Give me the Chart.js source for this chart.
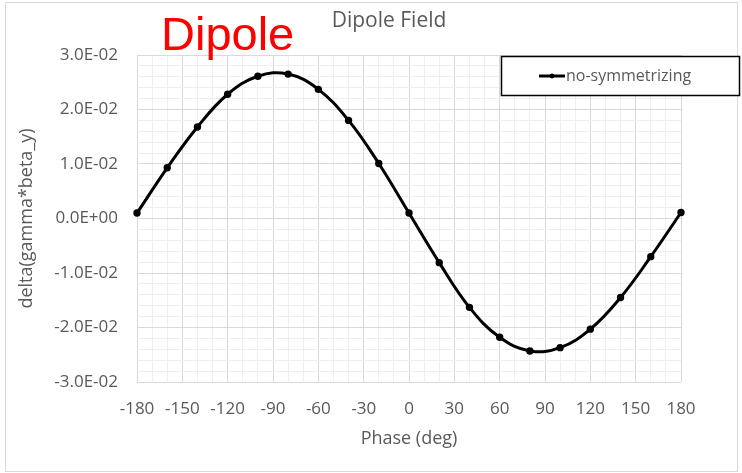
<!DOCTYPE html>
<html>
<head>
<meta charset="utf-8">
<script src="https://cdn.jsdelivr.net/npm/chart.js@4.4.1/dist/chart.umd.min.js"></script>
<style>
  html, body { margin: 0; padding: 0; background: #ffffff; }
  #wrap { position: relative; width: 742px; height: 473px; }
  canvas { display: block; }
</style>
</head>
<body>
<div id="wrap"><canvas id="c" width="742" height="473"></canvas></div>
<script>
// Phase sweep (deg) and resulting kick for the dipole field case
const phases = [-180, -160, -140, -120, -100, -80, -60, -40, -20, 0, 20, 40, 60, 80, 100, 120, 140, 160, 180];
const deltaGammaBetaY = [0.0010, 0.0093, 0.0168, 0.0228, 0.0261, 0.0265, 0.0237, 0.0180, 0.0101, 0.0010,
                         -0.0081, -0.0163, -0.0218, -0.0243, -0.0237, -0.0203, -0.0145, -0.0070, 0.0011];
const seriesName = 'no-symmetrizing';
const chartTitle = 'Dipole Field';
const overlayLabel = 'Dipole';
const xAxisTitle = 'Phase (deg)';
const yAxisTitle = 'delta(gamma*beta_y)';

const FONT = '"Open Sans", "DejaVu Sans", sans-serif';
const GREY_TEXT = '#595959';
const MAJOR_GRID = '#d9d9d9';
const MINOR_GRID = '#efefef';

function sci(v) {
  // Excel-style 0.0E+00 format
  const s = v.toExponential(1);
  const [m, e] = s.split('e');
  const sign = e[0] === '-' ? '-' : '+';
  const digits = Math.abs(parseInt(e, 10)).toString().padStart(2, '0');
  return m + 'E' + sign + digits;
}
const isMajorX = v => Math.round(v) % 30 === 0;
const isMajorY = v => Math.round(v * 500) % 5 === 0;

const decorations = {
  id: 'decorations',
  beforeDraw(chart) {
    const ctx = chart.ctx;
    ctx.save();
    ctx.fillStyle = '#ffffff';
    ctx.fillRect(0, 0, chart.width, chart.height);
    ctx.strokeStyle = '#d9d9d9';
    ctx.lineWidth = 1;
    ctx.strokeRect(5.5, 2.5, 732, 469);
    ctx.restore();
  },
  afterDatasetsDraw(chart) {
    const ctx = chart.ctx;
    ctx.save();
    // chart title
    ctx.fillStyle = GREY_TEXT;
    ctx.font = '21px ' + FONT;
    ctx.textAlign = 'center';
    ctx.textBaseline = 'middle';
    ctx.fillText(chartTitle, 389, 21);
    // red annotation
    ctx.fillStyle = '#ff0000';
    ctx.font = '47px "Liberation Sans", Arial, sans-serif';
    ctx.textAlign = 'left';
    ctx.textBaseline = 'alphabetic';
    ctx.fillText(overlayLabel, 161, 50);
    // legend box
    ctx.fillStyle = '#ffffff';
    ctx.fillRect(501, 56, 239, 39);
    ctx.strokeStyle = '#000000';
    ctx.lineWidth = 1.5;
    ctx.strokeRect(501.5, 56.5, 238, 39);
    ctx.strokeStyle = '#000000';
    ctx.lineWidth = 3;
    ctx.beginPath();
    ctx.moveTo(539, 76);
    ctx.lineTo(565, 76);
    ctx.stroke();
    ctx.fillStyle = '#000000';
    ctx.beginPath();
    ctx.arc(552, 76, 2.4, 0, Math.PI * 2);
    ctx.fill();
    ctx.fillStyle = GREY_TEXT;
    ctx.font = '16px ' + FONT;
    ctx.textBaseline = 'middle';
    ctx.fillText(chart.data.datasets[0].label, 566, 76);
    ctx.restore();
  }
};

new Chart(document.getElementById('c'), {
  type: 'line',
  data: {
    datasets: [{
      label: seriesName,
      data: phases.map((p, i) => ({ x: p, y: deltaGammaBetaY[i] })),
      borderColor: '#000000',
      backgroundColor: '#000000',
      borderWidth: 3,
      pointRadius: 2.2,
      pointHoverRadius: 2.2,
      tension: 0.4,
      fill: false,
      clip: 8
    }]
  },
  options: {
    responsive: false,
    animation: false,
    events: [],
    layout: { padding: { left: 8, right: 61, top: 55, bottom: 0 } },
    plugins: {
      legend: { display: false },
      title: { display: false },
      tooltip: { enabled: false }
    },
    scales: {
      x: {
        type: 'linear',
        min: -180,
        max: 180,
        afterFit(scale) { scale.height = 91; },
        ticks: {
          stepSize: 10,
          autoSkip: false,
          maxRotation: 0,
          padding: 17,
          color: GREY_TEXT,
          font: { family: FONT, size: 17 },
          callback: v => isMajorX(v) ? String(v) : ''
        },
        grid: {
          drawTicks: false,
          lineWidth: 1,
          color: c => (c.tick && isMajorX(c.tick.value)) ? MAJOR_GRID : MINOR_GRID
        },
        border: { display: false },
        title: {
          display: true,
          text: xAxisTitle,
          color: GREY_TEXT,
          font: { family: FONT, size: 18 },
          padding: { top: 0, bottom: 23 }
        }
      },
      y: {
        type: 'linear',
        min: -0.03,
        max: 0.03,
        afterFit(scale) { scale.width = 129; },
        ticks: {
          stepSize: 0.002,
          autoSkip: false,
          padding: 19,
          color: GREY_TEXT,
          font: { family: FONT, size: 17 },
          callback: v => isMajorY(v) ? sci(Math.round(v * 100) / 100) : ''
        },
        grid: {
          drawTicks: false,
          lineWidth: 1,
          color: c => (c.tick && isMajorY(c.tick.value)) ? MAJOR_GRID : MINOR_GRID
        },
        border: { display: false },
        title: {
          display: true,
          text: yAxisTitle,
          color: GREY_TEXT,
          font: { family: FONT, size: 18 },
          padding: { top: 8, bottom: 0 }
        }
      }
    }
  },
  plugins: [decorations]
});
</script>
</body>
</html>
